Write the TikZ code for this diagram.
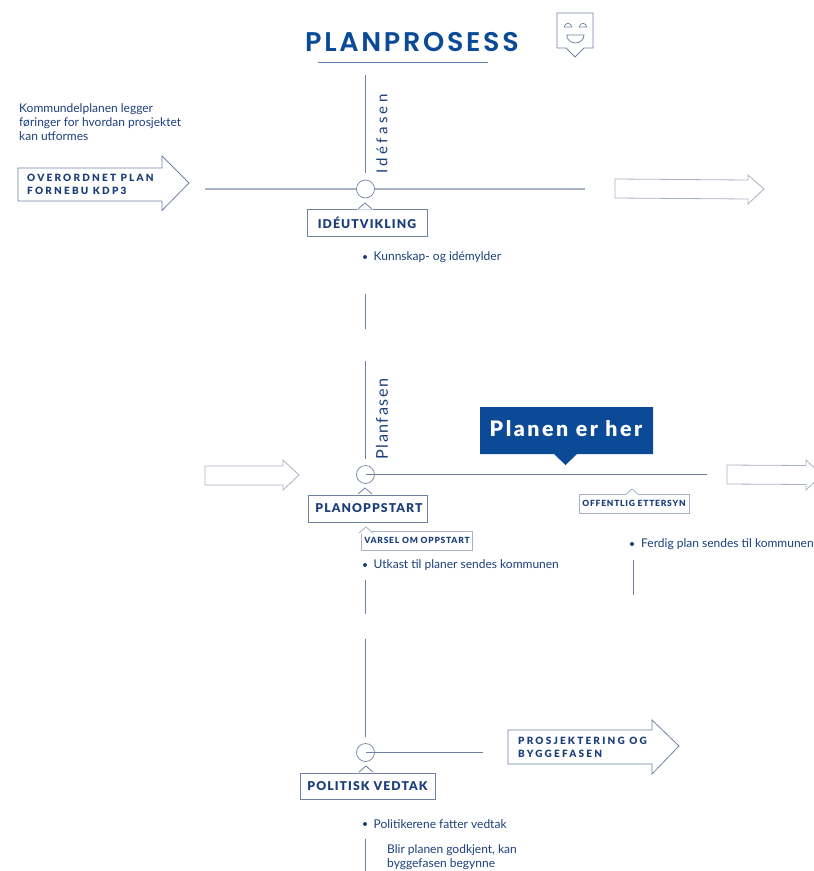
\documentclass[tikz,border=0pt]{standalone}
\usepackage{fontspec}
\setmainfont{Lato}
\newfontfamily\headf[LetterSpace=10]{Poppins SemiBold}
\newfontfamily\boxf[LetterSpace=9,Scale=1]{Lato Black}
\newfontfamily\arrowf[LetterSpace=22]{Lato Black}
\newfontfamily\smallf[LetterSpace=9]{Lato Black}
\newfontfamily\phasef[LetterSpace=9]{Lato}
\newfontfamily\phasewf[LetterSpace=22]{Lato}
\newfontfamily\herf[LetterSpace=12]{Lato Black}
\definecolor{ink}{HTML}{1C3F7C}
\definecolor{blueb}{HTML}{0B4A96}
\definecolor{edge}{HTML}{6F82A3}
\definecolor{ltedge}{HTML}{A9B2C2}
\tikzset{
 tlabel/.style={text=ink,font=\fontsize{12}{14}\selectfont,anchor=west,inner sep=0pt,align=left},
 tagbox/.style={draw=edge,line width=.8pt,fill=white,text=ink,inner sep=0pt,font=\fontsize{12.2}{14}\boxf},
 subbox/.style={draw=ltedge,line width=.8pt,fill=white,text=ink,inner sep=0pt,font=\fontsize{8.5}{10}\smallf},
 wire/.style={draw=edge,line width=.8pt},
 grayline/.style={draw=ltedge,line width=1.3pt},
 hub/.style={circle,draw=edge,line width=.7pt,minimum size=18pt,inner sep=0pt},
 arrowtxt/.style={text=ink,font=\fontsize{10}{12.5}\arrowf,anchor=west,inner sep=0pt,align=left},
 dot/.style={circle,fill=ink,minimum size=4pt,inner sep=0pt},
 phase/.style={text=ink,rotate=90,inner sep=0pt,anchor=west},
}
\newcommand{\notch}[3][edge]{\fill[white] (#2-8,#3+6.6) -- (#2,#3) -- (#2+8,#3+6.6) -- cycle;
 \draw[#1,line width=.8pt] (#2-7,#3+6) -- (#2,#3) -- (#2+7,#3+6);}
\begin{document}
\begin{tikzpicture}[x=1pt,y=-1pt]
\useasboundingbox (0,0) rectangle (814,871);
\clip (0,0) rectangle (814,871);
% title
\node[text=blueb,inner sep=0pt,font=\fontsize{27}{30}\headf] (title) at (412,42) {PLANPROSESS};
\coordinate (ula) at (318,62.6); \coordinate (ulb) at (488,62.6);
\draw[draw=blueb!70,line width=.9pt] (ula) -- (ulb);
% icon
\draw[edge,line width=.9pt,line join=miter] (557,13) -- (593,13) -- (593,48) -- (584,48) -- (575,57) -- (566,48) -- (557,48) -- cycle;
\draw[edge,line width=.7pt] (564.3,27) arc (180:360:3.7 and 3.7) -- cycle (579.3,27) arc (180:360:3.7 and 3.7) -- cycle;
\draw[edge,line width=.8pt] (566.7,35) -- (584,35) arc (0:180:8.65 and 8) -- cycle;
% first phase
\node[hub] (h1) at (365.5,189) {};
\coordinate (v1a) at (365.5,75); \coordinate (v1b) at (365.5,173);
\draw[wire] (v1a) -- (v1b);
\node[phase,font=\fontsize{15}{18}\phasewf] (p1) at (382,173.5) {Idéfasen};
\coordinate (g1) at (205,189); \coordinate (g2) at (585,189);
\draw[grayline] (g1) -- (h1.west) (h1.east) -- (g2);
\draw[edge,line width=.8pt,fill=white] (18,168) -- (162,168) -- (162,156) -- (189,183) -- (162,210.5) -- (162,201) -- (18,201) -- cycle;
\node[arrowtxt] (a1) at (27,184.5) {OVERORDNET PLAN\\FORNEBU KDP3};
\node[tlabel] (intro) at (19,122.5) {Kommundelplanen legger\\føringer for hvordan prosjektet\\kan utformes};
\draw[ltedge,line width=.8pt,fill=white] (615,179) -- (748,180) -- (748,175) -- (764,189) -- (748,204) -- (748,199) -- (615,198) -- cycle;
\node[tagbox,minimum width=120pt,minimum height=27pt] (b1) at (367,222.5) {IDÉUTVIKLING\hspace{4pt}};
\notch{365}{203}
\node[dot] (d1) at (365,257) {};
\node[tlabel] (t1) at (373.5,257.5) {Kunnskap- og idémylder};
\coordinate (v2a) at (365.5,294); \coordinate (v2b) at (365.5,329);
\draw[wire] (v2a) -- (v2b);
% second phase
\node[hub] (h2) at (365.5,474.5) {};
\coordinate (v3a) at (365.5,361); \coordinate (v3b) at (365.5,459);
\draw[wire] (v3a) -- (v3b);
\node[phase,font=\fontsize{16.2}{18}\phasef] (p2) at (382,459.5) {Planfasen};
\coordinate (l2) at (707,474.5);
\draw[wire] (h2.center) -- (l2);
\draw[ltedge,line width=.8pt,fill=white] (205,466) -- (283,466) -- (283,460) -- (299,475) -- (283,490) -- (283,485) -- (205,485) -- cycle;
\draw[ltedge,line width=.8pt,fill=white] (727,465) -- (806,465.5) -- (806,460) -- (822,475) -- (806,490) -- (806,484.5) -- (727,484) -- cycle;
\fill[blueb] (480,407) rectangle (653,454) (554,454) -- (565.5,465) -- (577,454) -- cycle;
\node[text=white,inner sep=0pt,font=\fontsize{21.3}{24}\herf] (here) at (566,429) {Planen er her};
\node[tagbox,minimum width=119pt,minimum height=27pt] (b2) at (367.5,508.5) {\hspace{3pt}PLANOPPSTART};
\notch{365}{488}
\node[subbox,minimum width=111pt,minimum height=19pt] (s1) at (417,540.5) {VARSEL OM OPPSTART};
\notch[ltedge]{366}{527}
\node[dot] (d2) at (365,565) {};
\node[tlabel] (t2) at (373.5,565.5) {Utkast til planer sendes kommunen};
\coordinate (v4a) at (365.5,580); \coordinate (v4b) at (365.5,614);
\draw[wire] (v4a) -- (v4b);
\node[subbox,minimum width=110pt,minimum height=19pt] (s2) at (634,503.5) {OFFENTLIG ETTERSYN};
\notch[ltedge]{632}{489}
\node[dot] (d3) at (632,544) {};
\node[tlabel] (t3) at (641,544.5) {Ferdig plan sendes til kommunen};
\coordinate (v5a) at (633,560); \coordinate (v5b) at (633,595);
\draw[wire] (v5a) -- (v5b);
% third phase
\node[hub] (h3) at (365.5,752.5) {};
\coordinate (v6a) at (365.5,639); \coordinate (v6b) at (365.5,737);
\draw[wire] (v6a) -- (v6b);
\coordinate (l3) at (483,752.5);
\draw[wire] (h3.center) -- (l3);
\draw[edge,line width=.8pt,fill=white] (508,730) -- (652,730) -- (652,720) -- (679,746) -- (652,774) -- (652,764) -- (508,764) -- cycle;
\node[arrowtxt] (a3) at (518,747.5) {PROSJEKTERING OG\\BYGGEFASEN};
\node[tagbox,minimum width=135pt,minimum height=26pt] (b3) at (367.5,786.5) {POLITISK VEDTAK};
\notch{366}{766}
\node[dot] (d4) at (365,824) {};
\node[tlabel] (t4) at (373.5,824.5) {Politikerene fatter vedtak};
\coordinate (v7a) at (365.5,839); \coordinate (v7b) at (365.5,871);
\draw[wire] (v7a) -- (v7b);
\node[tlabel] (t5) at (387,857.5) {Blir planen godkjent, kan\\byggefasen begynne};
\end{tikzpicture}
\end{document}
